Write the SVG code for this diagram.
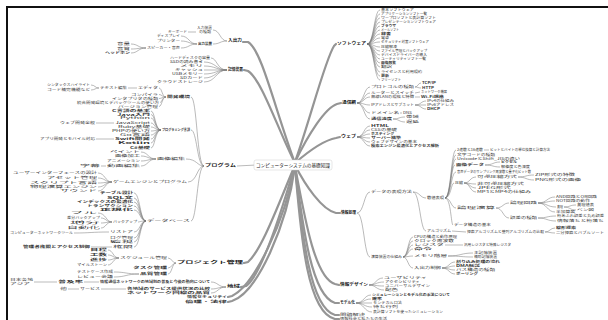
<svg xmlns="http://www.w3.org/2000/svg" width="608" height="320" viewBox="0 0 608 320">
<style>
text{font-family:"Noto Sans CJK JP","Noto Sans",sans-serif;font-size:3.4px;fill:#363636}
.b{font-weight:bold;font-size:4px;fill:#151515}
.k{font-weight:bold}
.c{font-size:4.5px;fill:#222}
.l{fill:none;stroke:#747474;stroke-width:0.5}
.s{fill:none;stroke:#959595;stroke-width:2.2;stroke-linecap:round}
</style>
<rect width="608" height="320" fill="#fff"/>
<path d="M7 320 V7 H608" fill="none" stroke="#111" stroke-width="2"/>
<g id="spokes">
<path class="s" d="M295 163 C275 110 262 50 248 42 L243 42"/>
<path class="s" d="M295 163 C278 130 262 80 248 71 L244 70"/>
<path class="s" d="M295 165 C280 200 262 250 248 262 L244 263"/>
<path class="s" d="M295 165 C282 210 262 275 246 286 L241 287"/>
<path class="s" d="M295 166 C285 220 255 285 232 296 L228 297"/>
<path class="s" d="M295 166 C287 225 258 292 232 301 L228 302"/>
<path class="s" d="M295 162 C310 120 325 60 334 46 L336 44"/>
<path class="s" d="M295 162 C308 135 325 108 337 104 L341 103"/>
<path class="s" d="M295 163 C310 150 325 140 336 138 L340 137"/>
<path class="s" d="M295 165 C305 185 322 210 336 213 L340 213"/>
<path class="s" d="M295 166 C305 220 315 278 335 284 L339 285"/>
<path class="s" d="M295 166 C303 230 312 296 335 303 L339 303"/>
<path class="s" d="M295 166 C302 235 310 308 335 315 L339 315"/>
<path class="s" d="M295 166 C301 240 308 313 335 319 L339 319"/>
</g>
<g id="connectors">
<path class="l" d="M237 166 L256 165"/>
<path class="l" d="M227 41 C220 41 220 30 213 30M227 41 C220 41 220 44 213 44M196 32 L188 32"/>
<path class="l" d="M197 44 C189 44 189 36 181 36M197 44 C189 44 189 41 181 41M197 44 C189 44 189 48 181 48"/>
<path class="l" d="M146 48 C138 48 138 44 131 44M146 48 C138 48 138 49 131 49M146 48 C138 48 138 53 131 53"/>
<path class="l" d="M227 70 C217 70 217 58 211 58M227 70 C216 70 216 62 204 62M227 70 C216 70 216 66 204 66M227 70 L204 70M227 70 C216 70 216 74 204 74M227 70 C216 70 216 78 204 78M227 70 C216 70 216 82 204 82"/>
<path class="l" d="M204 166 C197 166 197 97 191 97M204 166 C197 166 197 130 191 130M204 166 C197 166 197 159 186 159M204 166 C197 166 197 182 188 182M204 166 C197 166 197 221 191 221"/>
<path class="l" d="M166 97 C162 97 162 88 159 88M166 97 C162 97 162 94.5 159 94.5M166 97 C162 97 162 98.5 159 98.5M166 97 C162 97 162 102.5 160 102.5M166 97 C162 97 162 106.5 159 106.5M137 88 L128 88M99 88 C95 88 95 85 91 85M99 88 C95 88 95 90 91 90"/>
<path class="l" d="M161 130 C155 130 155 111 151 111M161 130 C155 130 155 114.5 151 114.5M161 130 C155 130 155 118 151 118M161 130 C155 130 155 123 151 123M161 130 C155 130 155 127 151 127M161 130 C155 130 155 131 151 131M161 130 C155 130 155 135 151 135M161 130 C155 130 155 139 151 139M161 130 C155 130 155 143 151 143M161 130 C155 130 155 148 151 148M114 123 L96 123M114 139 L96 139"/>
<path class="l" d="M156 159 C148 159 148 152 141 152M156 159 C148 159 148 156 141 156M156 159 C148 159 148 161 141 161M156 159 C148 159 148 166 141 166M106 166 L101 166"/>
<path class="l" d="M112 182 C105 182 105 173 98 173M112 182 C105 182 105 178 98 178M112 182 C105 182 105 183 98 183M112 182 C105 182 105 187 98 187M112 182 C105 182 105 191 98 191"/>
<path class="l" d="M146 221 C140 221 140 193 134 193M146 221 C140 221 140 198 134 198M146 221 C140 221 140 202 134 202M146 221 C140 221 140 206 134 206M146 221 C140 221 140 210 134 210M146 221 C140 221 140 222 138 222M146 221 C140 221 140 232 134 232M146 221 C140 221 140 238 134 238M146 221 C140 221 140 242 134 242M146 221 C140 221 140 247 134 247"/>
<path class="l" d="M112 222 C106 222 106 213 98 213M112 222 C106 222 106 218 101 218M112 222 C106 222 106 223 101 223M112 222 C106 222 106 228 101 228M109 232 C91 232 91 233 74 233M112 247 L91 247"/>
<path class="l" d="M176 263 C172 263 172 258 168 258M176 263 C172 263 172 268 168 268M176 263 C172 263 172 274 168 274"/>
<path class="l" d="M119 258 C113 258 113 250 108 250M119 258 C113 258 113 255 108 255M119 258 C113 258 113 260 108 260M119 258 C113 258 113 265 108 265M139 274 C126 274 126 272 114 272M139 274 C126 274 126 277 114 277"/>
<path class="l" d="M226 287 C218 287 218 282 211 282M226 287 C218 287 218 289 211 289M226 287 C218 287 218 293 211 293M99 282 L84 282M57 282 L34 282M126 289 L101 289M79 289 L68 289"/>
<path class="l" d="M367 44 C374 44 374 10 380 10M367 44 C374 44 374 14 380 14M367 44 C374 44 374 18 380 18M367 44 C374 44 374 22 380 22M367 44 C374 44 374 26 380 26M367 44 C374 44 374 30 380 30M367 44 C374 44 374 34 380 34M367 44 C374 44 374 38 380 38M367 44 C374 44 374 42 380 42M367 44 C374 44 374 47 380 47M367 44 C374 44 374 51 380 51M367 44 C374 44 374 55 380 55M367 44 C374 44 374 59 380 59M367 44 C374 44 374 63 380 63M367 44 C374 44 374 67 380 67M367 44 C374 44 374 72 380 72M367 44 C374 44 374 76 380 76M367 44 C374 44 374 80 380 80"/>
<path class="l" d="M357 103 C364 103 364 87 370 87M357 103 C364 103 364 93 370 93M357 103 C364 103 364 97 370 97M357 103 C364 103 364 105 370 105M357 103 C364 103 364 113 370 113M357 103 C364 103 364 119 370 119"/>
<path class="l" d="M415 87 C418 87 418 83 421 83M415 87 C418 87 418 88 421 88M415 93 L420 92M415 97 L420 97M415 105 C421 105 421 101 426 101M415 105 L426 105M415 105 C421 105 421 109 426 109M400 113 L402 113M393 119 C399 119 399 117 405 117M393 119 C399 119 399 122 405 122"/>
<path class="l" d="M357 137 C364 137 364 126 370 126M357 137 C364 137 364 130 370 130M357 137 C364 137 364 134 370 134M357 137 C364 137 364 138 370 138M357 137 C364 137 364 142 370 142M357 137 C364 137 364 146 370 146"/>
<path class="l" d="M357 213 C364 213 364 192 370 192M357 213 C364 213 364 257 370 257M413 192 C420 192 420 198 426 198M413 192 C420 192 420 231 426 231"/>
<path class="l" d="M445 198 C451 198 451 150 456 150M445 198 C451 198 451 155 456 155M445 198 C451 198 451 159 456 159M445 198 C451 198 451 165 455 165M445 198 C451 198 451 172 456 172M445 198 C451 198 451 183 454 183M445 198 C451 198 451 208 456 208M445 198 C451 198 451 225 453 225"/>
<path class="l" d="M484 150 L489 150M485 165 C493 165 493 162 500 162M485 165 C493 165 493 167 500 167M464 183 C470 183 470 177 476 177M464 183 C470 183 470 184 476 184M464 183 C470 183 470 188 476 188M464 183 C470 183 470 192 476 192M518 177 C526 177 526 175 534 175M518 177 C526 177 526 180 534 180"/>
<path class="l" d="M496 208 C503 208 503 203 509 203M496 208 C503 208 503 218 509 218M538 203 C547 203 547 197 555 197M538 203 C547 203 547 201 555 201M538 203 C547 203 547 207 556 207M538 203 C547 203 547 212 555 212M564 207 C570 207 570 205 576 205M564 207 C570 207 570 210 576 210M538 218 C547 218 547 216 556 216M538 218 C547 218 547 221 556 221"/>
<path class="l" d="M452 231 L466 232M545 232 C550 232 550 228 555 228M545 232 C550 232 550 233 555 233"/>
<path class="l" d="M403 257 C408 257 408 237 413 237M403 257 C408 257 408 241 413 241M403 257 C408 257 408 245 413 245M403 257 C408 257 408 249 413 249M403 257 C408 257 408 256 413 256M403 257 C408 257 408 268 413 268M445 245 L463 245M448 256 C461 256 461 253 473 253M448 256 C461 256 461 257 473 257M442 268 C449 268 449 262 455 262M442 268 C449 268 449 266 455 266M442 268 C449 268 449 270 455 270M442 268 C449 268 449 274 455 274"/>
<path class="l" d="M369 285 C376 285 376 278 383 278M369 285 C376 285 376 282 384 282M369 285 C376 285 376 286 384 286M369 285 C376 285 376 290 384 290"/>
<path class="l" d="M356 303 C364 303 364 295 371 295M356 303 C364 303 364 299 371 299M356 303 L372 303M356 303 C364 303 364 307 372 307M356 303 C364 303 364 312 372 312"/>
</g>
<g id="center"><rect x="254" y="160" width="78" height="10" rx="2" fill="#fff" stroke="#cfcfcf" stroke-width="0.5"/><text class="c" x="256" y="166.6" textLength="74" lengthAdjust="spacingAndGlyphs">コンピューターシステムの基礎知識</text></g>
<g id="nL1"><text class="b" x="228" y="42.4" textLength="14" lengthAdjust="spacingAndGlyphs">入出力</text></g>
<g id="nA"><text x="197" y="29.2" textLength="15" lengthAdjust="spacingAndGlyphs">入力装置</text><text x="199" y="33.2" textLength="12" lengthAdjust="spacingAndGlyphs">の種類</text></g>
<g id="nA1"><text x="168" y="33.2" textLength="19" lengthAdjust="spacingAndGlyphs">キーボード</text></g>
<g id="nB"><text class="k" x="198" y="45.2" textLength="14" lengthAdjust="spacingAndGlyphs">出力装置</text></g>
<g id="nB1"><text x="157" y="37.2" textLength="23" lengthAdjust="spacingAndGlyphs">ディスプレイ</text></g>
<g id="nB2"><text x="157" y="42.2" textLength="23" lengthAdjust="spacingAndGlyphs">プリンター</text></g>
<g id="nB3"><text x="147" y="49.2" textLength="33" lengthAdjust="spacingAndGlyphs">スピーカー・音声</text></g>
<g id="nB3a"><text x="117" y="45.2" textLength="13" lengthAdjust="spacingAndGlyphs">音量</text></g>
<g id="nB3b"><text x="117" y="50.2" textLength="13" lengthAdjust="spacingAndGlyphs">音質</text></g>
<g id="nB3c"><text class="k" x="105" y="54.2" textLength="25" lengthAdjust="spacingAndGlyphs">ヘッドホン</text></g>
<g id="nL2"><text class="b" x="228" y="71.4" textLength="15" lengthAdjust="spacingAndGlyphs">記憶装置</text></g>
<g id="nL2a"><text x="170" y="59.2" textLength="40" lengthAdjust="spacingAndGlyphs">ハードディスクの容量</text></g>
<g id="nL2b"><text x="170" y="63.2" textLength="33" lengthAdjust="spacingAndGlyphs">SSDの読み書き</text></g>
<g id="nL2c"><text x="180" y="67.2" textLength="23" lengthAdjust="spacingAndGlyphs">メモリ</text></g>
<g id="nL2d"><text x="175" y="71.2" textLength="28" lengthAdjust="spacingAndGlyphs">キャッシュ</text></g>
<g id="nL2e"><text x="172" y="75.2" textLength="31" lengthAdjust="spacingAndGlyphs">USBメモリー</text></g>
<g id="nL2f"><text x="180" y="79.2" textLength="23" lengthAdjust="spacingAndGlyphs">SDカード</text></g>
<g id="nL2g"><text x="157" y="83.2" textLength="46" lengthAdjust="spacingAndGlyphs">クラウドストレージ</text></g>
<g id="nL3"><text class="b" x="205" y="167.4" textLength="31" lengthAdjust="spacingAndGlyphs">プログラム</text></g>
<g id="nD"><text class="k" x="167" y="98.2" textLength="23" lengthAdjust="spacingAndGlyphs">開発環境</text></g>
<g id="nD1"><text x="138" y="89.2" textLength="20" lengthAdjust="spacingAndGlyphs">エディタ</text></g>
<g id="nD1a"><text x="100" y="89.2" textLength="27" lengthAdjust="spacingAndGlyphs">テキスト編集</text></g>
<g id="nD1a1"><text x="47" y="86.2" textLength="43" lengthAdjust="spacingAndGlyphs">シンタックスハイライト</text></g>
<g id="nD1a2"><text x="47" y="91.2" textLength="43" lengthAdjust="spacingAndGlyphs">コード補完機能など</text></g>
<g id="nD2"><text x="131" y="95.7" textLength="27" lengthAdjust="spacingAndGlyphs">コンパイラ</text></g>
<g id="nD3"><text x="112" y="99.7" textLength="46" lengthAdjust="spacingAndGlyphs">インタプリタの種類</text></g>
<g id="nD4"><text x="77" y="103.7" textLength="82" lengthAdjust="spacingAndGlyphs">統合開発環境とデバッグツールの使い方</text></g>
<g id="nD5"><text x="118" y="107.7" textLength="40" lengthAdjust="spacingAndGlyphs">バージョン管理</text></g>
<g id="nE"><text class="k" x="162" y="131.2" textLength="28" lengthAdjust="spacingAndGlyphs">プログラミング言語</text></g>
<g id="nE1"><text class="k" x="112" y="112.2" textLength="38" lengthAdjust="spacingAndGlyphs">C言語の基本</text></g>
<g id="nE2"><text class="k" x="117" y="115.7" textLength="33" lengthAdjust="spacingAndGlyphs">Java入門</text></g>
<g id="nE3"><text x="120" y="119.2" textLength="30" lengthAdjust="spacingAndGlyphs">Python</text></g>
<g id="nE4"><text x="115" y="124.2" textLength="35" lengthAdjust="spacingAndGlyphs">JavaScript</text></g>
<g id="nE4a"><text x="60" y="124.2" textLength="35" lengthAdjust="spacingAndGlyphs">ウェブ開発全般</text></g>
<g id="nE5"><text x="118" y="128.2" textLength="32" lengthAdjust="spacingAndGlyphs">Ruby基礎</text></g>
<g id="nE6"><text x="112" y="132.2" textLength="38" lengthAdjust="spacingAndGlyphs">PHPの使い方</text></g>
<g id="nE7"><text x="120" y="136.2" textLength="30" lengthAdjust="spacingAndGlyphs">Go言語</text></g>
<g id="nE8"><text class="k" x="115" y="140.2" textLength="35" lengthAdjust="spacingAndGlyphs">Swift開発</text></g>
<g id="nE8a"><text x="40" y="140.2" textLength="55" lengthAdjust="spacingAndGlyphs">アプリ開発とモバイル対応</text></g>
<g id="nE9"><text class="k" x="118" y="144.2" textLength="32" lengthAdjust="spacingAndGlyphs">Kotlin</text></g>
<g id="nE10"><text class="k" x="130" y="149.2" textLength="20" lengthAdjust="spacingAndGlyphs">C#基礎</text></g>
<g id="nF"><text x="157" y="160.2" textLength="28" lengthAdjust="spacingAndGlyphs">画像編集</text></g>
<g id="nF1"><text x="110" y="153.2" textLength="30" lengthAdjust="spacingAndGlyphs">ペイント</text></g>
<g id="nF2"><text x="115" y="157.2" textLength="25" lengthAdjust="spacingAndGlyphs">画像加工</text></g>
<g id="nF3"><text x="107" y="162.2" textLength="33" lengthAdjust="spacingAndGlyphs">アニメーション</text></g>
<g id="nF4"><text x="107" y="167.2" textLength="33" lengthAdjust="spacingAndGlyphs">動画編集</text></g>
<g id="nF4a"><text x="80" y="167.2" textLength="20" lengthAdjust="spacingAndGlyphs">字幕</text></g>
<g id="nG"><text x="113" y="183.2" textLength="74" lengthAdjust="spacingAndGlyphs">ゲームエンジンとプログラム</text></g>
<g id="nG1"><text x="13" y="174.2" textLength="84" lengthAdjust="spacingAndGlyphs">ユーザーインターフェースの設計</text></g>
<g id="nG2"><text x="47" y="179.2" textLength="50" lengthAdjust="spacingAndGlyphs">アセット管理</text></g>
<g id="nG3"><text x="30" y="184.2" textLength="67" lengthAdjust="spacingAndGlyphs">スクリプト言語</text></g>
<g id="nG4"><text x="30" y="188.2" textLength="67" lengthAdjust="spacingAndGlyphs">物理演算エンジン</text></g>
<g id="nG5"><text x="60" y="192.2" textLength="37" lengthAdjust="spacingAndGlyphs">サウンド</text></g>
<g id="nH"><text x="147" y="222.2" textLength="43" lengthAdjust="spacingAndGlyphs">データベース</text></g>
<g id="nH1"><text class="k" x="100" y="194.2" textLength="33" lengthAdjust="spacingAndGlyphs">テーブル設計</text></g>
<g id="nH2"><text class="k" x="107" y="199.2" textLength="26" lengthAdjust="spacingAndGlyphs">SQL文</text></g>
<g id="nH3"><text class="k" x="77" y="203.2" textLength="56" lengthAdjust="spacingAndGlyphs">インデックスの最適化</text></g>
<g id="nH4"><text class="k" x="87" y="207.2" textLength="46" lengthAdjust="spacingAndGlyphs">トランザクション</text></g>
<g id="nH5"><text class="k" x="100" y="211.2" textLength="33" lengthAdjust="spacingAndGlyphs">正規化</text></g>
<g id="nH6"><text x="113" y="223.2" textLength="24" lengthAdjust="spacingAndGlyphs">バックアップ</text></g>
<g id="nH6a"><text x="70" y="214.2" textLength="27" lengthAdjust="spacingAndGlyphs">フル</text></g>
<g id="nH6b"><text x="67" y="219.2" textLength="33" lengthAdjust="spacingAndGlyphs">差分バックアップ</text></g>
<g id="nH6c"><text x="70" y="224.2" textLength="30" lengthAdjust="spacingAndGlyphs">増分</text></g>
<g id="nH6d"><text x="67" y="229.2" textLength="33" lengthAdjust="spacingAndGlyphs">自動化</text></g>
<g id="nH7"><text x="110" y="233.2" textLength="23" lengthAdjust="spacingAndGlyphs">リストア</text></g>
<g id="nH7a"><text x="10" y="234.2" textLength="63" lengthAdjust="spacingAndGlyphs">コンピューターネットワークツール</text></g>
<g id="nH8"><text x="110" y="239.2" textLength="23" lengthAdjust="spacingAndGlyphs">ログ管理</text></g>
<g id="nH9"><text x="110" y="243.2" textLength="23" lengthAdjust="spacingAndGlyphs">監視</text></g>
<g id="nH10"><text x="113" y="248.2" textLength="20" lengthAdjust="spacingAndGlyphs">権限</text></g>
<g id="nH10a"><text class="k" x="23" y="248.2" textLength="67" lengthAdjust="spacingAndGlyphs">管理者権限とアクセス制御</text></g>
<g id="nL4"><text class="b" x="177" y="264.4" textLength="66" lengthAdjust="spacingAndGlyphs">プロジェクト管理</text></g>
<g id="nL4a"><text x="120" y="259.2" textLength="47" lengthAdjust="spacingAndGlyphs">スケジュール管理</text></g>
<g id="nL4a1"><text class="k" x="90" y="251.2" textLength="17" lengthAdjust="spacingAndGlyphs">日程</text></g>
<g id="nL4a2"><text class="k" x="90" y="256.2" textLength="17" lengthAdjust="spacingAndGlyphs">工数</text></g>
<g id="nL4a3"><text class="k" x="90" y="261.2" textLength="17" lengthAdjust="spacingAndGlyphs">進捗</text></g>
<g id="nL4a4"><text x="77" y="266.2" textLength="30" lengthAdjust="spacingAndGlyphs">マイルストーン</text></g>
<g id="nL4b"><text class="k" x="133" y="269.2" textLength="34" lengthAdjust="spacingAndGlyphs">タスク管理</text></g>
<g id="nL4c"><text class="k" x="140" y="275.2" textLength="27" lengthAdjust="spacingAndGlyphs">品質管理</text></g>
<g id="nL4c1"><text x="77" y="273.2" textLength="36" lengthAdjust="spacingAndGlyphs">テストケース作成</text></g>
<g id="nL4c2"><text x="77" y="278.2" textLength="36" lengthAdjust="spacingAndGlyphs">レビュー会議</text></g>
<g id="nL5"><text class="b" x="227" y="288.4" textLength="13" lengthAdjust="spacingAndGlyphs">地域</text></g>
<g id="nL5a"><text class="k" x="100" y="283.2" textLength="110" lengthAdjust="spacingAndGlyphs">情報通信ネットワークの地域別の普及と今後の動向について</text></g>
<g id="nL5a1"><text class="k" x="58" y="283.2" textLength="25" lengthAdjust="spacingAndGlyphs">普及率</text></g>
<g id="nL5a2"><text x="10" y="281.2" textLength="23" lengthAdjust="spacingAndGlyphs">日本各地</text><text x="10" y="285.2" textLength="20" lengthAdjust="spacingAndGlyphs">アジア</text></g>
<g id="nL5b"><text class="k" x="127" y="290.2" textLength="83" lengthAdjust="spacingAndGlyphs">各地域のサービス提供状況の比較</text></g>
<g id="nL5b1"><text x="80" y="290.2" textLength="20" lengthAdjust="spacingAndGlyphs">サービス</text></g>
<g id="nL5b2"><text x="60" y="290.2" textLength="7" lengthAdjust="spacingAndGlyphs">他</text></g>
<g id="nL5c"><text class="k" x="127" y="294.2" textLength="83" lengthAdjust="spacingAndGlyphs">ネットワーク回線の品質</text></g>
<g id="nL6"><text class="k" x="187" y="298.2" textLength="40" lengthAdjust="spacingAndGlyphs">情報セキュリティ</text></g>
<g id="nL7"><text class="k" x="185" y="303.2" textLength="42" lengthAdjust="spacingAndGlyphs">倫理・法律</text></g>
<g id="nR1"><text class="b" x="337" y="45.4" textLength="29" lengthAdjust="spacingAndGlyphs">ソフトウェア</text></g>
<g id="nR1a"><text x="381" y="11.2" textLength="33" lengthAdjust="spacingAndGlyphs">基本ソフトウェア</text></g>
<g id="nR1b"><text x="381" y="15.2" textLength="46" lengthAdjust="spacingAndGlyphs">アプリケーションソフト一覧</text></g>
<g id="nR1c"><text x="381" y="19.2" textLength="55" lengthAdjust="spacingAndGlyphs">ワープロソフトと表計算ソフト</text></g>
<g id="nR1d"><text x="381" y="23.2" textLength="55" lengthAdjust="spacingAndGlyphs">プレゼンテーションソフトウェア</text></g>
<g id="nR1e"><text class="k" x="381" y="27.2" textLength="15" lengthAdjust="spacingAndGlyphs">ブラウザ</text></g>
<g id="nR1f"><text x="381" y="31.2" textLength="18" lengthAdjust="spacingAndGlyphs">メールソフト</text></g>
<g id="nR1g"><text class="k" x="381" y="35.2" textLength="10" lengthAdjust="spacingAndGlyphs">辞書</text></g>
<g id="nR1h"><text x="381" y="39.2" textLength="8" lengthAdjust="spacingAndGlyphs">電卓</text></g>
<g id="nR1i"><text x="381" y="43.2" textLength="48" lengthAdjust="spacingAndGlyphs">セキュリティ対策ソフトウェア</text></g>
<g id="nR1j"><text x="381" y="48.2" textLength="16" lengthAdjust="spacingAndGlyphs">圧縮解凍</text></g>
<g id="nR1k"><text x="381" y="52.2" textLength="46" lengthAdjust="spacingAndGlyphs">ファイル管理とバックアップ</text></g>
<g id="nR1l"><text x="381" y="56.2" textLength="46" lengthAdjust="spacingAndGlyphs">デバイスドライバーの導入</text></g>
<g id="nR1m"><text x="381" y="60.2" textLength="45" lengthAdjust="spacingAndGlyphs">ユーティリティソフト一覧</text></g>
<g id="nR1n"><text class="k" x="381" y="64.2" textLength="15" lengthAdjust="spacingAndGlyphs">画像閲覧</text></g>
<g id="nR1o"><text x="381" y="68.2" textLength="11" lengthAdjust="spacingAndGlyphs">翻訳</text></g>
<g id="nR1p"><text x="381" y="73.2" textLength="41" lengthAdjust="spacingAndGlyphs">ライセンスと利用規約</text></g>
<g id="nR1q"><text class="k" x="381" y="77.2" textLength="8" lengthAdjust="spacingAndGlyphs">更新</text></g>
<g id="nR1r"><text x="381" y="81.2" textLength="20" lengthAdjust="spacingAndGlyphs">フリーソフト</text></g>
<g id="nR2"><text class="b" x="342" y="104.4" textLength="14" lengthAdjust="spacingAndGlyphs">通信網</text></g>
<g id="nR2a"><text x="371" y="88.2" textLength="43" lengthAdjust="spacingAndGlyphs">プロトコルの種類</text></g>
<g id="nR2a1"><text class="k" x="422" y="84.2" textLength="14" lengthAdjust="spacingAndGlyphs">TCP/IP</text></g>
<g id="nR2a2"><text class="k" x="422" y="89.2" textLength="12" lengthAdjust="spacingAndGlyphs">HTTP</text></g>
<g id="nR2b"><text x="371" y="94.2" textLength="43" lengthAdjust="spacingAndGlyphs">ルーターとスイッチ</text></g>
<g id="nR2b1"><text x="421" y="93.2" textLength="26" lengthAdjust="spacingAndGlyphs">ネットワーク機器</text></g>
<g id="nR2c"><text x="371" y="98.2" textLength="43" lengthAdjust="spacingAndGlyphs">無線LANの規格と特徴</text></g>
<g id="nR2c1"><text class="k" x="421" y="98.2" textLength="23" lengthAdjust="spacingAndGlyphs">Wi-Fi規格</text></g>
<g id="nR2d"><text x="371" y="106.2" textLength="43" lengthAdjust="spacingAndGlyphs">IPアドレスとサブネット</text></g>
<g id="nR2d1"><text x="427" y="102.2" textLength="27" lengthAdjust="spacingAndGlyphs">IPv4の仕組み</text></g>
<g id="nR2d2"><text x="427" y="106.2" textLength="27" lengthAdjust="spacingAndGlyphs">IPv6アドレス</text></g>
<g id="nR2d3"><text class="k" x="427" y="110.2" textLength="13" lengthAdjust="spacingAndGlyphs">DHCP</text></g>
<g id="nR2e"><text x="371" y="114.2" textLength="28" lengthAdjust="spacingAndGlyphs">ドメイン名</text></g>
<g id="nR2e1"><text x="403" y="114.2" textLength="9" lengthAdjust="spacingAndGlyphs">DNS</text></g>
<g id="nR2f"><text class="k" x="371" y="120.2" textLength="21" lengthAdjust="spacingAndGlyphs">通信速度</text></g>
<g id="nR2f1"><text x="406" y="118.2" textLength="13" lengthAdjust="spacingAndGlyphs">帯域</text></g>
<g id="nR2f2"><text x="406" y="123.2" textLength="13" lengthAdjust="spacingAndGlyphs">遅延</text></g>
<g id="nR3"><text class="b" x="341" y="138.4" textLength="15" lengthAdjust="spacingAndGlyphs">ウェブ</text></g>
<g id="nR3a"><text class="k" x="371" y="127.2" textLength="18" lengthAdjust="spacingAndGlyphs">HTML</text></g>
<g id="nR3b"><text x="371" y="131.2" textLength="26" lengthAdjust="spacingAndGlyphs">CSSの基礎</text></g>
<g id="nR3c"><text class="k" x="371" y="135.2" textLength="23" lengthAdjust="spacingAndGlyphs">ホスティング</text></g>
<g id="nR3d"><text class="k" x="371" y="139.2" textLength="30" lengthAdjust="spacingAndGlyphs">サーバー構築</text></g>
<g id="nR3e"><text x="371" y="143.2" textLength="46" lengthAdjust="spacingAndGlyphs">ウェブデザインの基本</text></g>
<g id="nR3f"><text class="k" x="371" y="147.2" textLength="68" lengthAdjust="spacingAndGlyphs">検索エンジン最適化とアクセス解析</text></g>
<g id="nR4"><text class="b" x="341" y="214.4" textLength="15" lengthAdjust="spacingAndGlyphs">情報処理</text></g>
<g id="nR4a"><text x="371" y="193.2" textLength="41" lengthAdjust="spacingAndGlyphs">データの表現方法</text></g>
<g id="nX"><text x="427" y="199.2" textLength="17" lengthAdjust="spacingAndGlyphs">数値表現</text></g>
<g id="nX1"><text x="457" y="151.2" textLength="26" lengthAdjust="spacingAndGlyphs">2進数と16進数</text></g>
<g id="nX1a"><text x="490" y="151.2" textLength="60" lengthAdjust="spacingAndGlyphs">ビットとバイトの単位換算と計算方法</text></g>
<g id="nX2"><text x="457" y="156.2" textLength="38" lengthAdjust="spacingAndGlyphs">文字コードの種類</text></g>
<g id="nX3"><text x="457" y="160.2" textLength="63" lengthAdjust="spacingAndGlyphs">UnicodeとShift_JISの違い</text></g>
<g id="nX4"><text class="k" x="456" y="166.2" textLength="28" lengthAdjust="spacingAndGlyphs">画像データ</text></g>
<g id="nX4a"><text class="k" x="501" y="163.2" textLength="16" lengthAdjust="spacingAndGlyphs">ピクセル</text></g>
<g id="nX4b"><text x="501" y="168.2" textLength="29" lengthAdjust="spacingAndGlyphs">解像度と色深度</text></g>
<g id="nX5"><text x="457" y="173.2" textLength="74" lengthAdjust="spacingAndGlyphs">音声データのサンプリング周波数と量子化ビット数</text></g>
<g id="nX6"><text x="455" y="184.2" textLength="8" lengthAdjust="spacingAndGlyphs">圧縮</text></g>
<g id="nX6a"><text x="477" y="178.2" textLength="40" lengthAdjust="spacingAndGlyphs">可逆圧縮方式</text></g>
<g id="nX6a1"><text x="535" y="176.2" textLength="40" lengthAdjust="spacingAndGlyphs">ZIP形式の特徴</text></g>
<g id="nX6a2"><text x="535" y="181.2" textLength="46" lengthAdjust="spacingAndGlyphs">PNG形式の画像</text></g>
<g id="nX6b"><text x="477" y="185.2" textLength="47" lengthAdjust="spacingAndGlyphs">非可逆圧縮方式</text></g>
<g id="nX6c"><text x="477" y="189.2" textLength="34" lengthAdjust="spacingAndGlyphs">JPEG形式</text></g>
<g id="nX6d"><text x="477" y="193.2" textLength="54" lengthAdjust="spacingAndGlyphs">MP3とMP4の仕組み</text></g>
<g id="nX7"><text x="457" y="209.2" textLength="38" lengthAdjust="spacingAndGlyphs">論理演算</text></g>
<g id="nX7a"><text x="510" y="204.2" textLength="27" lengthAdjust="spacingAndGlyphs">論理回路</text></g>
<g id="nX7a1"><text x="556" y="198.2" textLength="41" lengthAdjust="spacingAndGlyphs">AND回路とOR回路</text></g>
<g id="nX7a2"><text x="556" y="202.2" textLength="34" lengthAdjust="spacingAndGlyphs">NOT回路の動作</text></g>
<g id="nX7a3"><text x="557" y="208.2" textLength="6" lengthAdjust="spacingAndGlyphs">真理</text></g>
<g id="nX7a3a"><text x="577" y="206.2" textLength="17" lengthAdjust="spacingAndGlyphs">真理値表</text></g>
<g id="nX7a3b"><text x="577" y="211.2" textLength="17" lengthAdjust="spacingAndGlyphs">ベン図</text></g>
<g id="nX7a4"><text x="556" y="213.2" textLength="19" lengthAdjust="spacingAndGlyphs">半加算器</text></g>
<g id="nX7b"><text x="510" y="219.2" textLength="27" lengthAdjust="spacingAndGlyphs">誤差の種類</text></g>
<g id="nX7b1"><text x="557" y="217.2" textLength="47" lengthAdjust="spacingAndGlyphs">桁あふれ誤差と丸め誤差</text></g>
<g id="nX7b2"><text x="557" y="222.2" textLength="47" lengthAdjust="spacingAndGlyphs">情報落ちと桁落ち</text></g>
<g id="nX8"><text x="454" y="226.2" textLength="37" lengthAdjust="spacingAndGlyphs">データ構造の基本</text></g>
<g id="nR4a2"><text x="427" y="232.2" textLength="24" lengthAdjust="spacingAndGlyphs">アルゴリズム</text></g>
<g id="nR4a2a"><text x="467" y="233.2" textLength="77" lengthAdjust="spacingAndGlyphs">探索アルゴリズムと整列アルゴリズムの比較</text></g>
<g id="nR4a2a1"><text class="k" x="556" y="229.2" textLength="20" lengthAdjust="spacingAndGlyphs">線形探索</text></g>
<g id="nR4a2a2"><text x="556" y="234.2" textLength="48" lengthAdjust="spacingAndGlyphs">二分探索とバブルソート</text></g>
<g id="nR4b"><text x="371" y="258.2" textLength="31" lengthAdjust="spacingAndGlyphs">演算装置の仕組み</text></g>
<g id="nR4b1"><text x="414" y="238.2" textLength="43" lengthAdjust="spacingAndGlyphs">CPUの構造と動作原理</text></g>
<g id="nR4b2"><text x="414" y="242.2" textLength="40" lengthAdjust="spacingAndGlyphs">クロック周波数</text></g>
<g id="nR4b3"><text x="414" y="246.2" textLength="30" lengthAdjust="spacingAndGlyphs">レジスタ</text></g>
<g id="nR4b3a"><text x="464" y="246.2" textLength="47" lengthAdjust="spacingAndGlyphs">汎用レジスタと特殊レジスタ</text></g>
<g id="nR4b4"><text class="k" x="414" y="250.2" textLength="18" lengthAdjust="spacingAndGlyphs">命令</text></g>
<g id="nR4b5"><text x="414" y="257.2" textLength="33" lengthAdjust="spacingAndGlyphs">メモリ階層</text></g>
<g id="nR4b5a"><text x="474" y="254.2" textLength="23" lengthAdjust="spacingAndGlyphs">主記憶装置</text></g>
<g id="nR4b5b"><text x="474" y="258.2" textLength="23" lengthAdjust="spacingAndGlyphs">補助記憶装置</text></g>
<g id="nR4b6"><text x="414" y="269.2" textLength="27" lengthAdjust="spacingAndGlyphs">入出力制御</text></g>
<g id="nR4b6a"><text class="k" x="456" y="263.2" textLength="44" lengthAdjust="spacingAndGlyphs">割り込み処理の流れ</text></g>
<g id="nR4b6b"><text class="k" x="456" y="267.2" textLength="24" lengthAdjust="spacingAndGlyphs">DMA転送</text></g>
<g id="nR4b6c"><text x="456" y="271.2" textLength="39" lengthAdjust="spacingAndGlyphs">バス構造の種類</text></g>
<g id="nR4b6d"><text class="k" x="456" y="275.2" textLength="22" lengthAdjust="spacingAndGlyphs">ポーリング</text></g>
<g id="nR5"><text class="b" x="340" y="286.4" textLength="28" lengthAdjust="spacingAndGlyphs">情報デザイン</text></g>
<g id="nR5a"><text x="384" y="279.2" textLength="43" lengthAdjust="spacingAndGlyphs">ユーザビリティ</text></g>
<g id="nR5b"><text x="385" y="283.2" textLength="35" lengthAdjust="spacingAndGlyphs">アクセシビリティ</text></g>
<g id="nR5c"><text x="385" y="287.2" textLength="45" lengthAdjust="spacingAndGlyphs">ユニバーサルデザイン</text></g>
<g id="nR5d"><text x="385" y="291.2" textLength="13" lengthAdjust="spacingAndGlyphs">配色</text></g>
<g id="nR6"><text class="b" x="340" y="304.4" textLength="15" lengthAdjust="spacingAndGlyphs">モデル化</text></g>
<g id="nR6a"><text class="k" x="372" y="296.2" textLength="78" lengthAdjust="spacingAndGlyphs">シミュレーションとモデル化の手法について</text></g>
<g id="nR6b"><text class="k" x="372" y="300.2" textLength="10" lengthAdjust="spacingAndGlyphs">確率</text></g>
<g id="nR6c"><text x="373" y="304.2" textLength="29" lengthAdjust="spacingAndGlyphs">モンテカルロ法</text></g>
<g id="nR6d"><text x="373" y="308.2" textLength="25" lengthAdjust="spacingAndGlyphs">待ち行列</text></g>
<g id="nR6e"><text x="373" y="313.2" textLength="70" lengthAdjust="spacingAndGlyphs">表計算ソフトを使ったシミュレーション</text></g>
<g id="nR7"><text x="340" y="316.2" textLength="25" lengthAdjust="spacingAndGlyphs">問題解決</text></g>
<g id="nR8"><text x="340" y="320" textLength="47" lengthAdjust="spacingAndGlyphs">情報社会と私たちの生活</text></g>
</svg>
